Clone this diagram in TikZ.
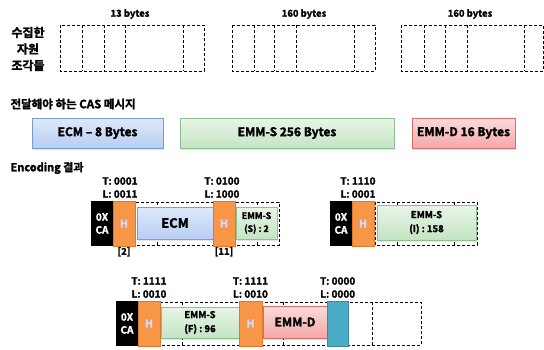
\documentclass[tikz,border=0pt]{standalone}
\usepackage{fontspec}
\setmainfont{Noto Sans CJK KR}[BoldFont={Noto Sans CJK KR Bold}, BoldFeatures={FakeBold=2}]
\usepackage{xcolor}
\usetikzlibrary{positioning, shadows}

\definecolor{ecmtop}{RGB}{222,233,250}
\definecolor{ecmbot}{RGB}{184,205,242}
\definecolor{ecmline}{RGB}{120,156,212}
\definecolor{emmtop}{RGB}{232,245,232}
\definecolor{emmbot}{RGB}{196,228,196}
\definecolor{emmline}{RGB}{140,192,140}
\definecolor{dtop}{RGB}{252,218,218}
\definecolor{dbot}{RGB}{245,168,168}
\definecolor{dline}{RGB}{214,108,108}
\definecolor{hdr}{RGB}{247,150,70}
\definecolor{hdrline}{RGB}{222,120,45}
\definecolor{pad}{RGB}{75,172,198}
\definecolor{htext}{RGB}{205,220,255}

\begin{document}
\begin{tikzpicture}[x=1pt, y=-1pt,
  font=\bfseries\fontsize{9.5}{10}\selectfont,
  frame/.style={draw, line width=0.9pt, dash pattern=on 3pt off 2pt},
  msg/.style={draw, line width=0.6pt, inner sep=0pt, outer sep=0pt,
              drop shadow={opacity=0.2, shadow xshift=1pt, shadow yshift=-1.5pt},
              font=\bfseries\fontsize{12}{12}\selectfont},
  ecmbox/.style={msg, top color=ecmtop, bottom color=ecmbot, draw=ecmline},
  emmbox/.style={msg, top color=emmtop, bottom color=emmbot, draw=emmline},
  emmdbox/.style={msg, top color=dtop, bottom color=dbot, draw=dline},
  cabox/.style={fill=black, text=white, inner sep=0pt, outer sep=0pt,
                minimum width=22pt, minimum height=45pt, anchor=north west,
                align=center, font=\bfseries\fontsize{10}{13}\selectfont},
  hbox/.style={fill=hdr, draw=hdrline, line width=0.4pt, text=htext,
               inner sep=0pt, outer sep=0pt, minimum width=22pt,
               minimum height=45pt, font=\bfseries\fontsize{10.5}{10}\selectfont},
  tag/.style={align=center, inner sep=0pt, font=\bfseries\fontsize{10}{13}\selectfont}]

  \useasboundingbox[fill=white] (0,0) rectangle (544,349);

  % collected fragments
  \node[align=center, font=\bfseries\fontsize{12}{16.5}\selectfont] (frag) at (28,49) {수집한\\자원\\조각들};
  \node (size1) at (130,14) {13 bytes};
  \node (size2) at (304,14) {160 bytes};
  \node (size3) at (470,14) {160 bytes};

  \draw[frame] (60,25) rectangle (204,71);
  \foreach \x in {82,104,125,183} \draw[frame] (\x,25) -- (\x,71);
  \draw[frame] (232,25) rectangle (375,71);
  \foreach \x in {254,274,296,354} \draw[frame] (\x,25) -- (\x,71);
  \draw[frame] (401,25) rectangle (543,71);
  \foreach \x in {424,445,467,524} \draw[frame] (\x,25) -- (\x,71);

  % CAS messages
  \node[anchor=west, font=\bfseries\fontsize{11.5}{12}\selectfont] (cas) at (7,104) {전달해야 하는 CAS 메시지};
  \node[ecmbox, minimum width=131pt, minimum height=30pt] (ecm) at (97.5,133) {ECM – 8 Bytes};
  \node[emmbox, minimum width=214pt, minimum height=30pt] (emms) at (287,133) {EMM-S 256 Bytes};
  \node[emmdbox, minimum width=103pt, minimum height=30pt] (emmd) at (463.5,133) {EMM-D 16 Bytes};

  % encoding
  \node[anchor=west, font=\bfseries\fontsize{11}{11}\selectfont] (enc) at (7,168) {Encoding 결과};

  % packet 1
  \draw[frame] (135,202) rectangle (279,245);
  \foreach \x in {157,213,235,257} \draw[frame] (\x,202) -- (\x,245);
  \node[cabox] (ca1) at (91,201) {0X\\CA};
  \node[hbox, right=0pt of ca1] (h1) {H};
  \node[ecmbox, anchor=north west, minimum width=76pt, minimum height=32pt,
        font=\bfseries\fontsize{13}{13}\selectfont] (ecm1) at (137,207) {ECM};
  \node[hbox, anchor=north west] (h2) at (213,201) {H};
  \node[emmbox, anchor=north west, minimum width=41pt, minimum height=32pt, align=center,
        font=\bfseries\fontsize{9}{13}\selectfont] (emms1) at (236,207) {EMM-S\\(S) : 2};
  \node[tag, above=3pt of h1, xshift=-4pt] (t1) {T: 0001\\L: 0011};
  \node[tag, above=3pt of h2, xshift=-2pt] (t2) {T: 0100\\L: 1000};
  \node[below=1pt of h1, inner sep=0pt] (n1) {[2]};
  \node[below=1pt of h2, inner sep=0pt] (n2) {[11]};

  % packet 2
  \draw[frame] (375,202) rectangle (477,245);
  \foreach \x in {397,454} \draw[frame] (\x,202) -- (\x,245);
  \node[cabox] (ca2) at (330,201) {0X\\CA};
  \node[hbox, right=0pt of ca2] (h3) {H};
  \node[emmbox, anchor=north west, minimum width=99pt, minimum height=35pt, align=center,
        font=\bfseries\fontsize{9.5}{14}\selectfont] (emms2) at (377,205) {EMM-S\\(I) : 158};
  \node[tag, above=3pt of h3, xshift=-5pt] (t3) {T: 1110\\L: 0001};

  % packet 3
  \draw[frame] (160,302) rectangle (421,345);
  \foreach \x in {182,239,262,283,348,372} \draw[frame] (\x,302) -- (\x,345);
  \node[cabox] (ca3) at (116,301) {0X\\CA};
  \node[hbox, right=0pt of ca3] (h4) {H};
  \node[emmbox, anchor=north west, minimum width=78pt, minimum height=31pt, align=center,
        font=\bfseries\fontsize{9.5}{14}\selectfont] (emms3) at (161,307) {EMM-S\\(F) : 96};
  \node[hbox, anchor=north west, minimum width=23pt] (h5) at (239,301) {H};
  \node[emmdbox, anchor=north west, minimum width=64pt, minimum height=32pt] (emmd3) at (263,306) {EMM-D};
  \node[fill=pad, draw=pad!80!black, line width=0.4pt, anchor=north west, inner sep=0pt,
        minimum width=21pt, minimum height=45pt] (pad3) at (327,301) {};
  \node[tag, above=3pt of h4] (t4) {T: 1111\\L: 0010};
  \node[tag, above=3pt of h5] (t5) {T: 1111\\L: 0010};
  \node[tag, above=3pt of pad3] (t6) {T: 0000\\L: 0000};
\end{tikzpicture}
\end{document}
